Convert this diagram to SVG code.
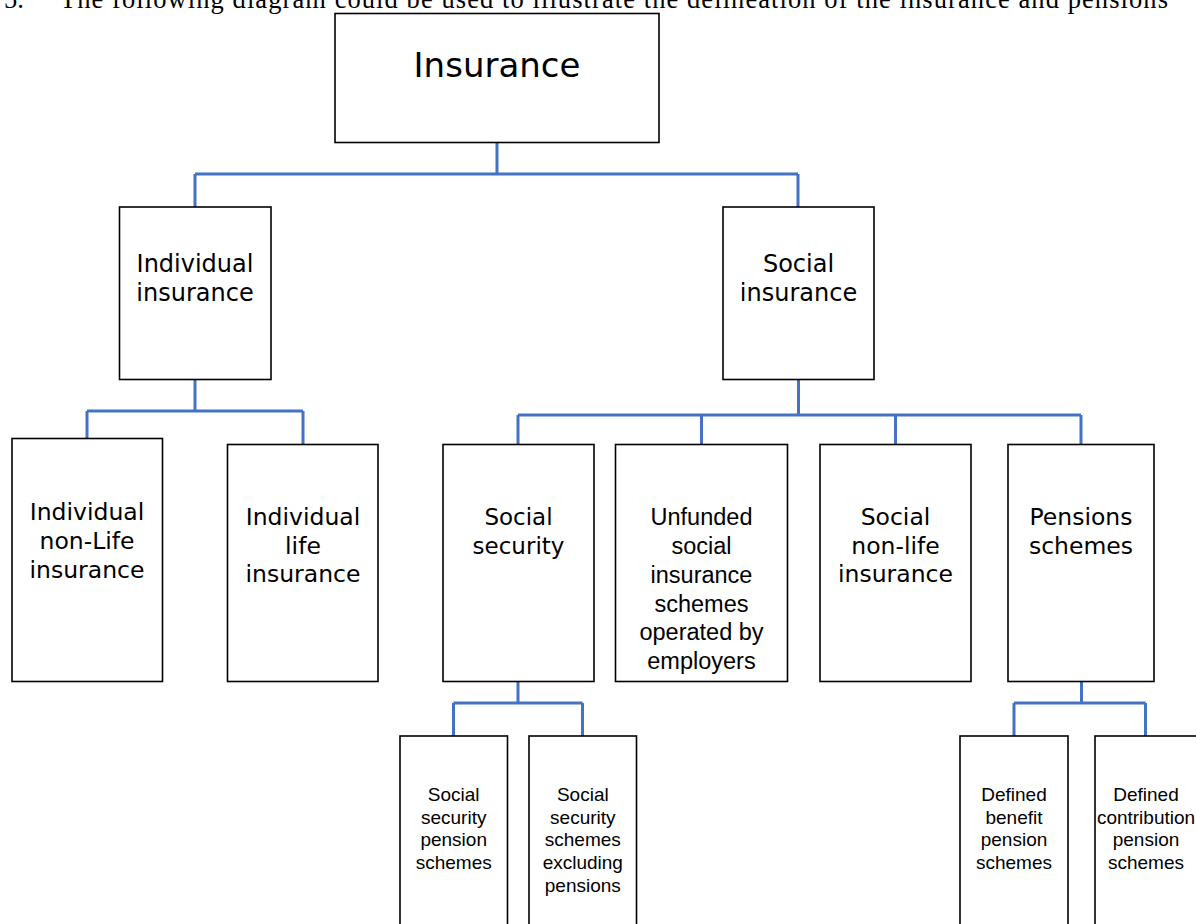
<svg xmlns="http://www.w3.org/2000/svg" width="1196" height="924" viewBox="0 0 1196 924">
<style>
.box{fill:#fff;stroke:#000;stroke-width:1.6}
.con{fill:none;stroke:#4472C4;stroke-width:3;stroke-linejoin:miter}
.v{font-family:"DejaVu Sans",Verdana,sans-serif;fill:#000;text-anchor:middle}
.a{font-family:"Liberation Sans",Arial,sans-serif;fill:#000;text-anchor:middle}
.hdr{font-family:"Liberation Serif","Times New Roman",serif;font-size:26.5px;fill:#000}
</style>
<rect width="1196" height="924" fill="#fff"/>
<text class="hdr" x="4" y="8">5.</text>
<text class="hdr" x="60" y="8" textLength="1108" lengthAdjust="spacing">The following diagram could be used to illustrate the delineation of the insurance and pensions</text>
<g id="connectors">
<path class="con" d="M497 143V174M195 174H798M195 174V207M798 174V207"/>
<path class="con" d="M195 380V411M87 411H303M87 411V438M303 411V444"/>
<path class="con" d="M798.5 380V415M518 415H1081M518 415V444M701.5 415V444M895.5 415V444M1081 415V444"/>
<path class="con" d="M518 682V703M453.5 703H582.5M453.5 703V736M582.5 703V736"/>
<path class="con" d="M1081.5 682V703M1014 703H1145.5M1014 703V736M1145.5 703V736"/>
</g>
<g id="insurance"><rect class="box" x="335" y="13.5" width="324" height="129"/><text class="v" x="497" y="77" font-size="34">Insurance</text></g>
<g id="individual-insurance"><rect class="box" x="119.5" y="207" width="151.5" height="172.5"/><text class="v" font-size="24"><tspan x="195" y="272">Individual</tspan><tspan x="195" y="300.5">insurance</tspan></text></g>
<g id="social-insurance"><rect class="box" x="723" y="207" width="151" height="172.5"/><text class="v" font-size="24"><tspan x="798.5" y="272">Social</tspan><tspan x="798.5" y="300.5">insurance</tspan></text></g>
<g id="individual-non-life"><rect class="box" x="12" y="438.5" width="150.5" height="243"/><text class="v" font-size="23.5"><tspan x="87" y="519.5">Individual</tspan><tspan x="87" y="548.5">non-Life</tspan><tspan x="87" y="577.5">insurance</tspan></text></g>
<g id="individual-life"><rect class="box" x="227.5" y="444.5" width="150.5" height="237"/><text class="v" font-size="23.5"><tspan x="303" y="524.5">Individual</tspan><tspan x="303" y="553.5">life</tspan><tspan x="303" y="582">insurance</tspan></text></g>
<g id="social-security"><rect class="box" x="443" y="444.5" width="151" height="237"/><text class="v" font-size="23"><tspan x="518.5" y="525">Social</tspan><tspan x="518.5" y="553.5">security</tspan></text></g>
<g id="unfunded"><rect class="box" x="615.5" y="444.5" width="172" height="237"/><text class="a" font-size="23.5"><tspan x="701.5" y="525">Unfunded</tspan><tspan x="701.5" y="554">social</tspan><tspan x="701.5" y="583">insurance</tspan><tspan x="701.5" y="611.5">schemes</tspan><tspan x="701.5" y="640">operated by</tspan><tspan x="701.5" y="669">employers</tspan></text></g>
<g id="social-non-life"><rect class="box" x="820" y="444.5" width="151" height="237"/><text class="v" font-size="23.5"><tspan x="895.5" y="525">Social</tspan><tspan x="895.5" y="553.5">non-life</tspan><tspan x="895.5" y="582">insurance</tspan></text></g>
<g id="pensions-schemes"><rect class="box" x="1008" y="444.5" width="146" height="237"/><text class="v" font-size="23.5"><tspan x="1081" y="525">Pensions</tspan><tspan x="1081" y="553.5">schemes</tspan></text></g>
<g id="ss-pension"><rect class="box" x="400" y="736" width="107.5" height="200"/><text class="a" font-size="19"><tspan x="453.7" y="800.5">Social</tspan><tspan x="453.7" y="823.5">security</tspan><tspan x="453.7" y="846">pension</tspan><tspan x="453.7" y="868.5">schemes</tspan></text></g>
<g id="ss-excl"><rect class="box" x="529" y="736" width="107.5" height="200"/><text class="a" font-size="19"><tspan x="582.8" y="800.5">Social</tspan><tspan x="582.8" y="823.5">security</tspan><tspan x="582.8" y="846">schemes</tspan><tspan x="582.8" y="868.5">excluding</tspan><tspan x="582.8" y="891.5">pensions</tspan></text></g>
<g id="defined-benefit"><rect class="box" x="960" y="736" width="108" height="200"/><text class="a" font-size="19"><tspan x="1014" y="800.5">Defined</tspan><tspan x="1014" y="823.5">benefit</tspan><tspan x="1014" y="846">pension</tspan><tspan x="1014" y="868.5">schemes</tspan></text></g>
<g id="defined-contribution"><rect class="box" x="1095" y="736" width="120" height="200"/><text class="a" font-size="19"><tspan x="1146" y="800.5">Defined</tspan><tspan x="1146" y="823.5">contribution</tspan><tspan x="1146" y="846">pension</tspan><tspan x="1146" y="868.5">schemes</tspan></text></g>
</svg>
